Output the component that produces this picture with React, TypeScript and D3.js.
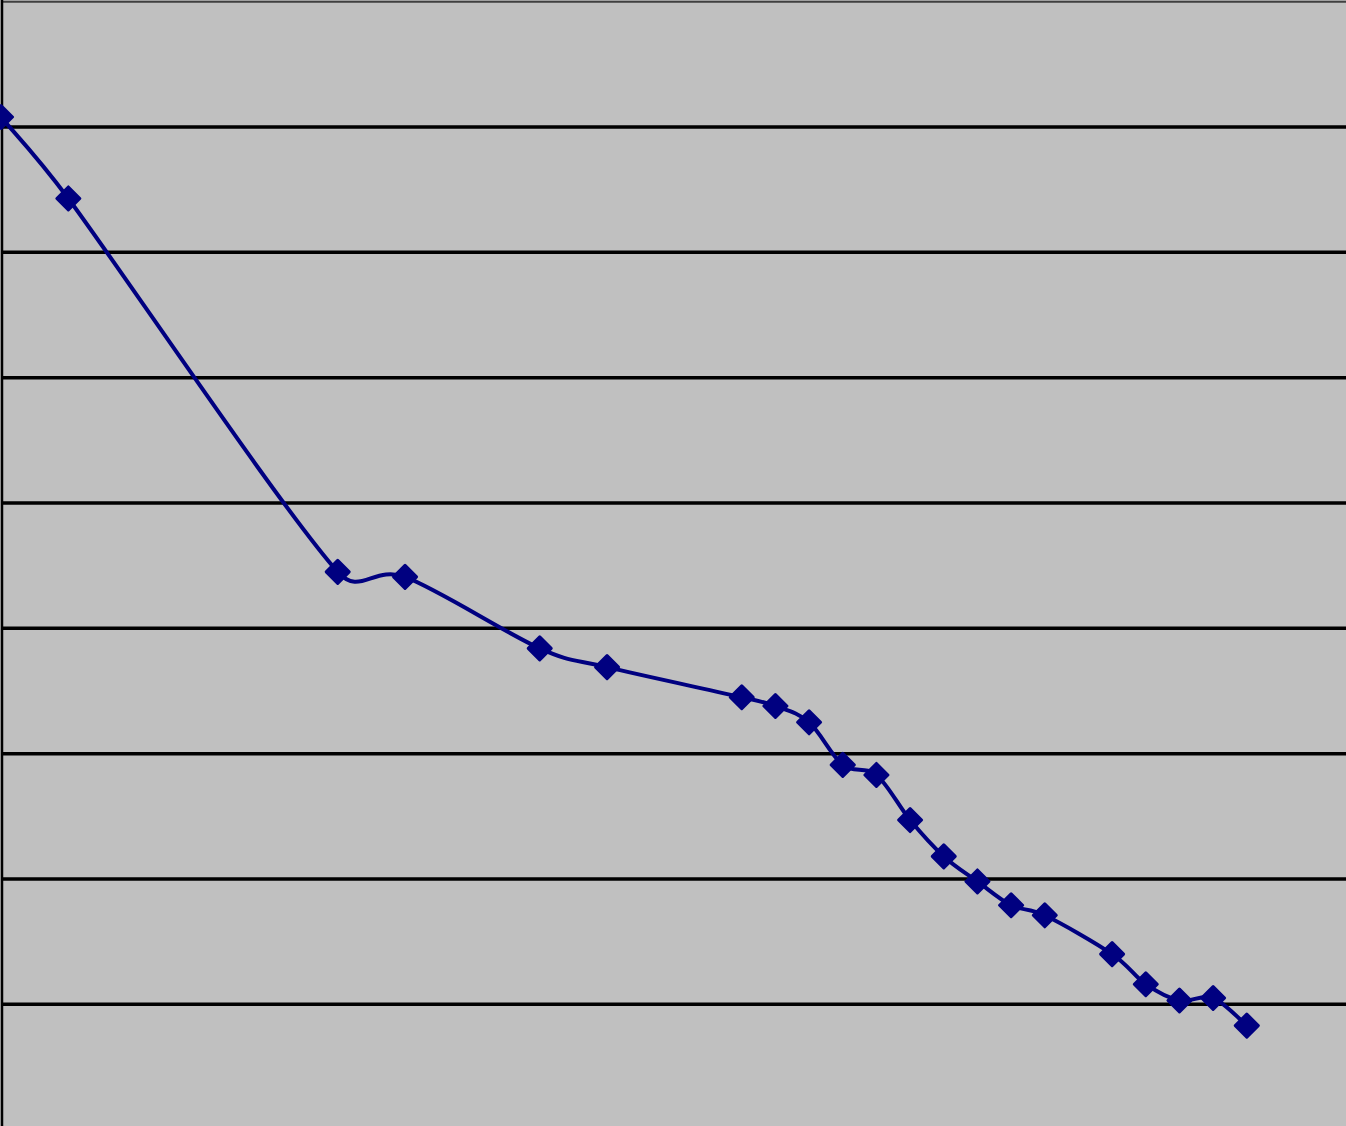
import React from 'react';
import * as d3 from 'd3';

// category positions (x slots) and values
const xSlots = [0, 2, 10, 12, 16, 18, 22, 23, 24, 25, 26, 27, 28, 29, 30, 31, 33, 34, 35, 36, 37];
const values = [80.8, 74.3, 44.5, 44.1, 38.4, 36.9, 34.5, 33.8, 32.5, 29.1, 28.3, 24.7, 21.8, 19.8, 17.9, 17.1, 14.0, 11.6, 10.3, 10.5, 8.3];
const yTicks = [10, 20, 30, 40, 50, 60, 70, 80, 90];

const width = 1346;
const height = 1126;

// spreadsheet-style smoothed line: tangent (P2-P0)/6, capped at half the segment
function smoothPath(pts: [number, number][]) {
  const path = d3.path();
  if (!pts.length) return '';
  path.moveTo(pts[0][0], pts[0][1]);
  const ctrl = (a: [number, number], b: [number, number], p: [number, number], q: [number, number], sign: number) => {
    let dx = (b[0] - a[0]) / 6;
    let dy = (b[1] - a[1]) / 6;
    const len = Math.hypot(dx, dy);
    const cap = Math.hypot(q[0] - p[0], q[1] - p[1]) / 2;
    if (len > cap && len > 0) {
      dx *= cap / len;
      dy *= cap / len;
    }
    return [p[0] + sign * dx, p[1] + sign * dy];
  };
  for (let i = 0; i < pts.length - 1; i++) {
    const p0 = pts[Math.max(0, i - 1)];
    const p1 = pts[i];
    const p2 = pts[i + 1];
    const p3 = pts[Math.min(pts.length - 1, i + 2)];
    const c1 = ctrl(p0, p2, p1, p2, 1);
    const c2 = ctrl(p1, p3, p2, p1, -1);
    path.bezierCurveTo(c1[0], c1[1], c2[0], c2[1], p2[0], p2[1]);
  }
  return path.toString();
}

const App: React.FC = () => {
  const xScale = d3.scaleLinear().domain([0, 40]).range([1, 1347.8]);
  const yScale = d3.scaleLinear().domain([0, 90]).range([1129.6, 1.7]);

  const pts: [number, number][] = xSlots.map((x, i) => [xScale(x), yScale(values[i])]);

  const diamond = (cx: number, cy: number, r: number) =>
    `M${cx},${cy - r}L${cx + r},${cy}L${cx},${cy + r}L${cx - r},${cy}Z`;

  return (
    <svg
      width={width}
      height={height}
      style={{ position: 'absolute', left: 0, top: 0, display: 'block' }}
    >
      <rect x={0} y={0} width={width} height={height} fill="#c0c0c0" />
      {yTicks.map(t => (
        <line
          key={t}
          x1={1}
          x2={width}
          y1={yScale(t)}
          y2={yScale(t)}
          stroke={t === 90 ? '#404040' : '#000'}
          strokeWidth={t === 90 ? 2 : 3.5}
        />
      ))}
      <line x1={2} x2={2} y1={0} y2={height} stroke="#000" strokeWidth={2.5} />
      <path d={smoothPath(pts)} fill="none" stroke="#000080" strokeWidth={4} />
      {pts.map((p, i) => (
        <path
          key={i}
          d={diamond(p[0], p[1], 11.5)}
          fill="#000080"
          stroke="#000080"
          strokeWidth={3}
          strokeLinejoin="round"
        />
      ))}
    </svg>
  );
};

export default App;
